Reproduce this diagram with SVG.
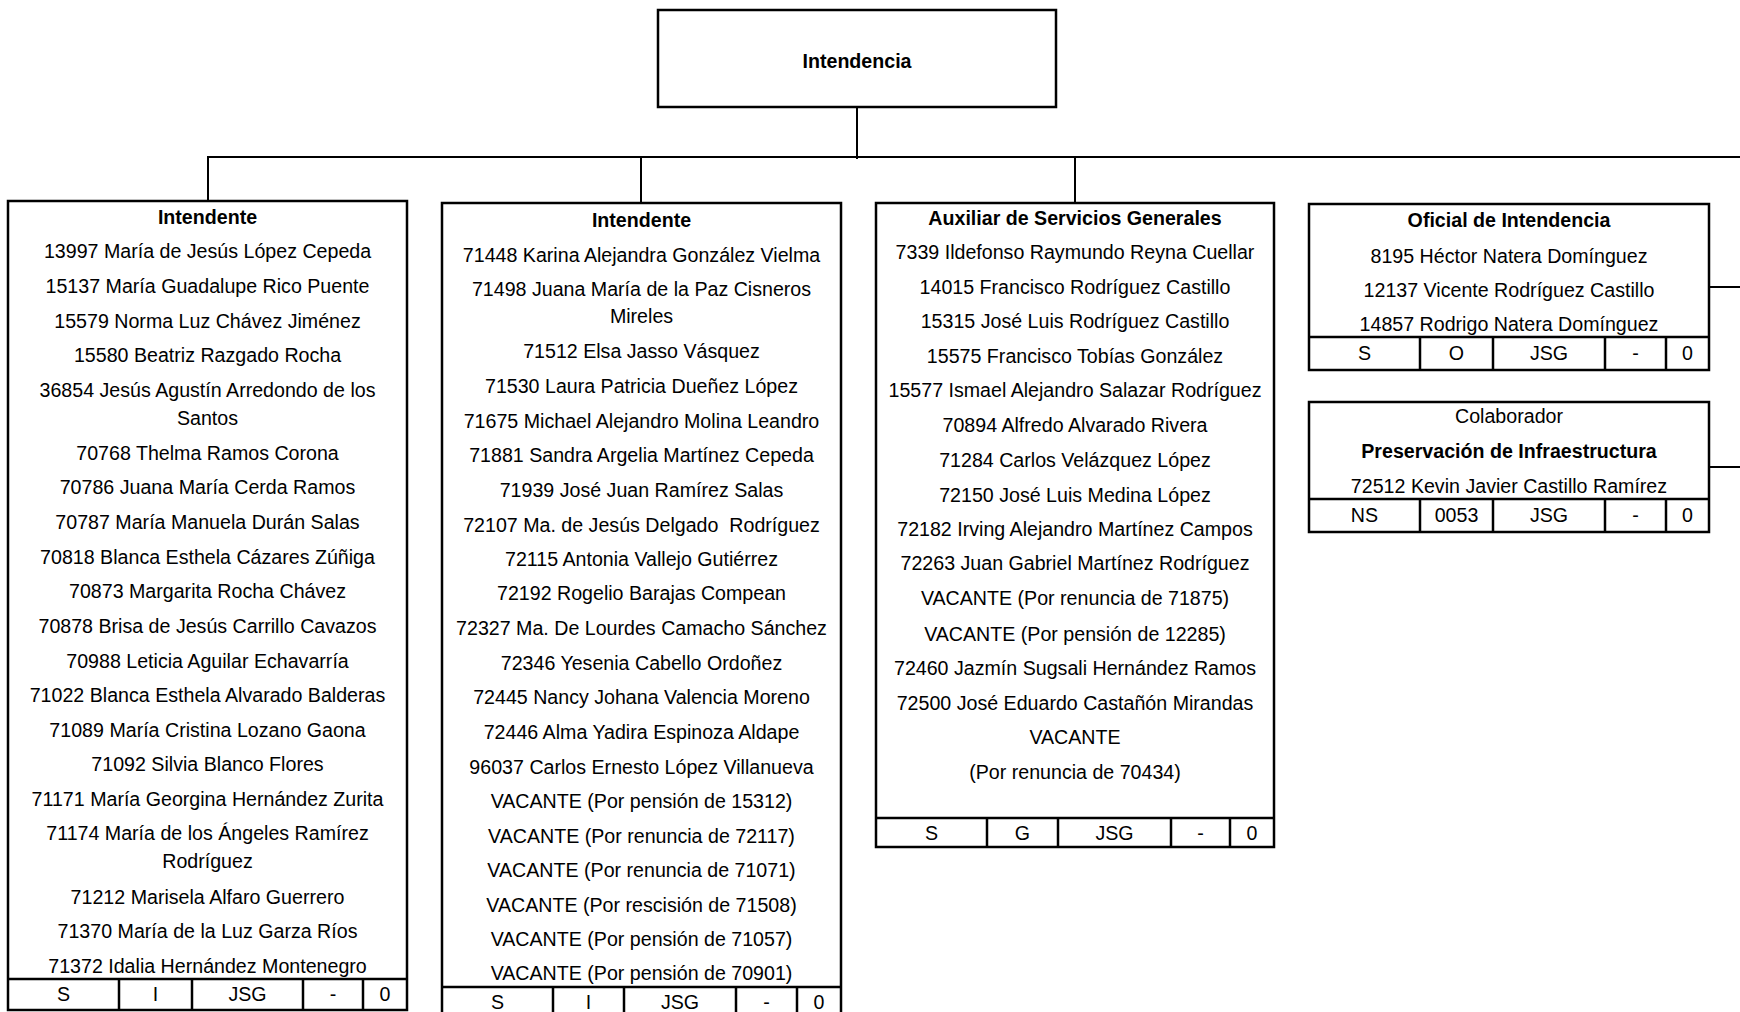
<svg xmlns="http://www.w3.org/2000/svg" width="1740" height="1012" viewBox="0 0 1740 1012">
<style>
.box{fill:#fff;stroke:#000;stroke-width:2.5}
.ln{stroke:#000;stroke-width:2.5;fill:none}
.con{stroke:#000;stroke-width:2;fill:none}
text{font-family:"Liberation Sans",Arial,sans-serif;font-size:21px;fill:#000;text-anchor:middle;transform-box:fill-box;transform-origin:center;transform:scaleX(0.935)}
.b{font-weight:bold}
</style>
<rect width="1740" height="1012" fill="#fff"/>
<g id="connectors">
<line class="con" x1="857" y1="107" x2="857" y2="159"/>
<line class="con" x1="207" y1="157" x2="1740" y2="157"/>
<line class="con" x1="208" y1="157" x2="208" y2="201"/>
<line class="con" x1="641" y1="157" x2="641" y2="203"/>
<line class="con" x1="1075" y1="157" x2="1075" y2="203"/>
<line class="con" x1="1709" y1="287" x2="1740" y2="287"/>
<line class="con" x1="1709" y1="467" x2="1740" y2="467"/>
</g>
<g id="intendencia">
<rect class="box" x="658" y="10" width="398" height="97"/>
<text class="b" x="857" y="68">Intendencia</text>
</g>
<g id="intendente1">
<rect class="box" x="8" y="201" width="399" height="809"/>
<line class="ln" x1="8" y1="979" x2="407" y2="979"/>
<line class="ln" x1="119" y1="979" x2="119" y2="1010"/>
<line class="ln" x1="192" y1="979" x2="192" y2="1010"/>
<line class="ln" x1="303" y1="979" x2="303" y2="1010"/>
<line class="ln" x1="363" y1="979" x2="363" y2="1010"/>
<text class="b" x="207.5" y="224">Intendente</text>
<text x="207.5" y="258">13997 María de Jesús López Cepeda</text>
<text x="207.5" y="293">15137 María Guadalupe Rico Puente</text>
<text x="207.5" y="328">15579 Norma Luz Chávez Jiménez</text>
<text x="207.5" y="362">15580 Beatriz Razgado Rocha</text>
<text x="207.5" y="397">36854 Jesús Agustín Arredondo de los</text>
<text x="207.5" y="425">Santos</text>
<text x="207.5" y="460">70768 Thelma Ramos Corona</text>
<text x="207.5" y="494">70786 Juana María Cerda Ramos</text>
<text x="207.5" y="529">70787 María Manuela Durán Salas</text>
<text x="207.5" y="564">70818 Blanca Esthela Cázares Zúñiga</text>
<text x="207.5" y="598">70873 Margarita Rocha Chávez</text>
<text x="207.5" y="633">70878 Brisa de Jesús Carrillo Cavazos</text>
<text x="207.5" y="668">70988 Leticia Aguilar Echavarría</text>
<text x="207.5" y="702">71022 Blanca Esthela Alvarado Balderas</text>
<text x="207.5" y="737">71089 María Cristina Lozano Gaona</text>
<text x="207.5" y="771">71092 Silvia Blanco Flores</text>
<text x="207.5" y="806">71171 María Georgina Hernández Zurita</text>
<text x="207.5" y="840">71174 María de los Ángeles Ramírez</text>
<text x="207.5" y="868">Rodríguez</text>
<text x="207.5" y="904">71212 Marisela Alfaro Guerrero</text>
<text x="207.5" y="938">71370 María de la Luz Garza Ríos</text>
<text x="207.5" y="973">71372 Idalia Hernández Montenegro</text>
<text x="63.5" y="1001">S</text>
<text x="155.5" y="1001">I</text>
<text x="247.5" y="1001">JSG</text>
<text x="333" y="1001">-</text>
<text x="385" y="1001">0</text>
</g>
<g id="intendente2">
<rect class="box" x="442" y="203" width="399" height="830"/>
<line class="ln" x1="442" y1="987" x2="841" y2="987"/>
<line class="ln" x1="553" y1="987" x2="553" y2="1014"/>
<line class="ln" x1="624" y1="987" x2="624" y2="1014"/>
<line class="ln" x1="736" y1="987" x2="736" y2="1014"/>
<line class="ln" x1="797" y1="987" x2="797" y2="1014"/>
<text class="b" x="641.5" y="227">Intendente</text>
<text x="641.5" y="262">71448 Karina Alejandra González Vielma</text>
<text x="641.5" y="296">71498 Juana María de la Paz Cisneros</text>
<text x="641.5" y="323">Mireles</text>
<text x="641.5" y="358">71512 Elsa Jasso Vásquez</text>
<text x="641.5" y="393">71530 Laura Patricia Dueñez López</text>
<text x="641.5" y="428">71675 Michael Alejandro Molina Leandro</text>
<text x="641.5" y="462">71881 Sandra Argelia Martínez Cepeda</text>
<text x="641.5" y="497">71939 José Juan Ramírez Salas</text>
<text x="641.5" y="532">72107 Ma. de Jesús Delgado &#160;Rodríguez</text>
<text x="641.5" y="566">72115 Antonia Vallejo Gutiérrez</text>
<text x="641.5" y="600">72192 Rogelio Barajas Compean</text>
<text x="641.5" y="635">72327 Ma. De Lourdes Camacho Sánchez</text>
<text x="641.5" y="670">72346 Yesenia Cabello Ordoñez</text>
<text x="641.5" y="704">72445 Nancy Johana Valencia Moreno</text>
<text x="641.5" y="739">72446 Alma Yadira Espinoza Aldape</text>
<text x="641.5" y="774">96037 Carlos Ernesto López Villanueva</text>
<text x="641.5" y="808">VACANTE (Por pensión de 15312)</text>
<text x="641.5" y="843">VACANTE (Por renuncia de 72117)</text>
<text x="641.5" y="877">VACANTE (Por renuncia de 71071)</text>
<text x="641.5" y="912">VACANTE (Por rescisión de 71508)</text>
<text x="641.5" y="946">VACANTE (Por pensión de 71057)</text>
<text x="641.5" y="980">VACANTE (Por pensión de 70901)</text>
<text x="497.5" y="1009">S</text>
<text x="588.5" y="1009">I</text>
<text x="680" y="1009">JSG</text>
<text x="766.5" y="1009">-</text>
<text x="819" y="1009">0</text>
</g>
<g id="auxiliar">
<rect class="box" x="876" y="203" width="398" height="644"/>
<line class="ln" x1="876" y1="818" x2="1274" y2="818"/>
<line class="ln" x1="987" y1="818" x2="987" y2="847"/>
<line class="ln" x1="1058" y1="818" x2="1058" y2="847"/>
<line class="ln" x1="1171" y1="818" x2="1171" y2="847"/>
<line class="ln" x1="1230" y1="818" x2="1230" y2="847"/>
<text class="b" x="1075" y="225">Auxiliar de Servicios Generales</text>
<text x="1075" y="259">7339 Ildefonso Raymundo Reyna Cuellar</text>
<text x="1075" y="294">14015 Francisco Rodríguez Castillo</text>
<text x="1075" y="328">15315 José Luis Rodríguez Castillo</text>
<text x="1075" y="363">15575 Francisco Tobías González</text>
<text x="1075" y="397">15577 Ismael Alejandro Salazar Rodríguez</text>
<text x="1075" y="432">70894 Alfredo Alvarado Rivera</text>
<text x="1075" y="467">71284 Carlos Velázquez López</text>
<text x="1075" y="502">72150 José Luis Medina López</text>
<text x="1075" y="536">72182 Irving Alejandro Martínez Campos</text>
<text x="1075" y="570">72263 Juan Gabriel Martínez Rodríguez</text>
<text x="1075" y="605">VACANTE (Por renuncia de 71875)</text>
<text x="1075" y="641">VACANTE (Por pensión de 12285)</text>
<text x="1075" y="675">72460 Jazmín Sugsali Hernández Ramos</text>
<text x="1075" y="710">72500 José Eduardo Castañón Mirandas</text>
<text x="1075" y="744">VACANTE</text>
<text x="1075" y="779">(Por renuncia de 70434)</text>
<text x="931.5" y="840">S</text>
<text x="1022.5" y="840">G</text>
<text x="1114.5" y="840">JSG</text>
<text x="1200.5" y="840">-</text>
<text x="1252" y="840">0</text>
</g>
<g id="oficial">
<rect class="box" x="1309" y="204" width="400" height="166"/>
<line class="ln" x1="1309" y1="337" x2="1709" y2="337"/>
<line class="ln" x1="1420" y1="337" x2="1420" y2="370"/>
<line class="ln" x1="1493" y1="337" x2="1493" y2="370"/>
<line class="ln" x1="1605" y1="337" x2="1605" y2="370"/>
<line class="ln" x1="1666" y1="337" x2="1666" y2="370"/>
<text class="b" x="1509" y="227">Oficial de Intendencia</text>
<text x="1509" y="263">8195 Héctor Natera Domínguez</text>
<text x="1509" y="297">12137 Vicente Rodríguez Castillo</text>
<text x="1509" y="331">14857 Rodrigo Natera Domínguez</text>
<text x="1364.5" y="360">S</text>
<text x="1456.5" y="360">O</text>
<text x="1549" y="360">JSG</text>
<text x="1635.5" y="360">-</text>
<text x="1687.5" y="360">0</text>
</g>
<g id="colaborador">
<rect class="box" x="1309" y="402" width="400" height="130"/>
<line class="ln" x1="1309" y1="499" x2="1709" y2="499"/>
<line class="ln" x1="1420" y1="499" x2="1420" y2="532"/>
<line class="ln" x1="1493" y1="499" x2="1493" y2="532"/>
<line class="ln" x1="1605" y1="499" x2="1605" y2="532"/>
<line class="ln" x1="1666" y1="499" x2="1666" y2="532"/>
<text x="1509" y="423">Colaborador</text>
<text class="b" x="1509" y="458">Preservación de Infraestructura</text>
<text x="1509" y="493">72512 Kevin Javier Castillo Ramírez</text>
<text x="1364.5" y="522">NS</text>
<text x="1456.5" y="522">0053</text>
<text x="1549" y="522">JSG</text>
<text x="1635.5" y="522">-</text>
<text x="1687.5" y="522">0</text>
</g>
</svg>
